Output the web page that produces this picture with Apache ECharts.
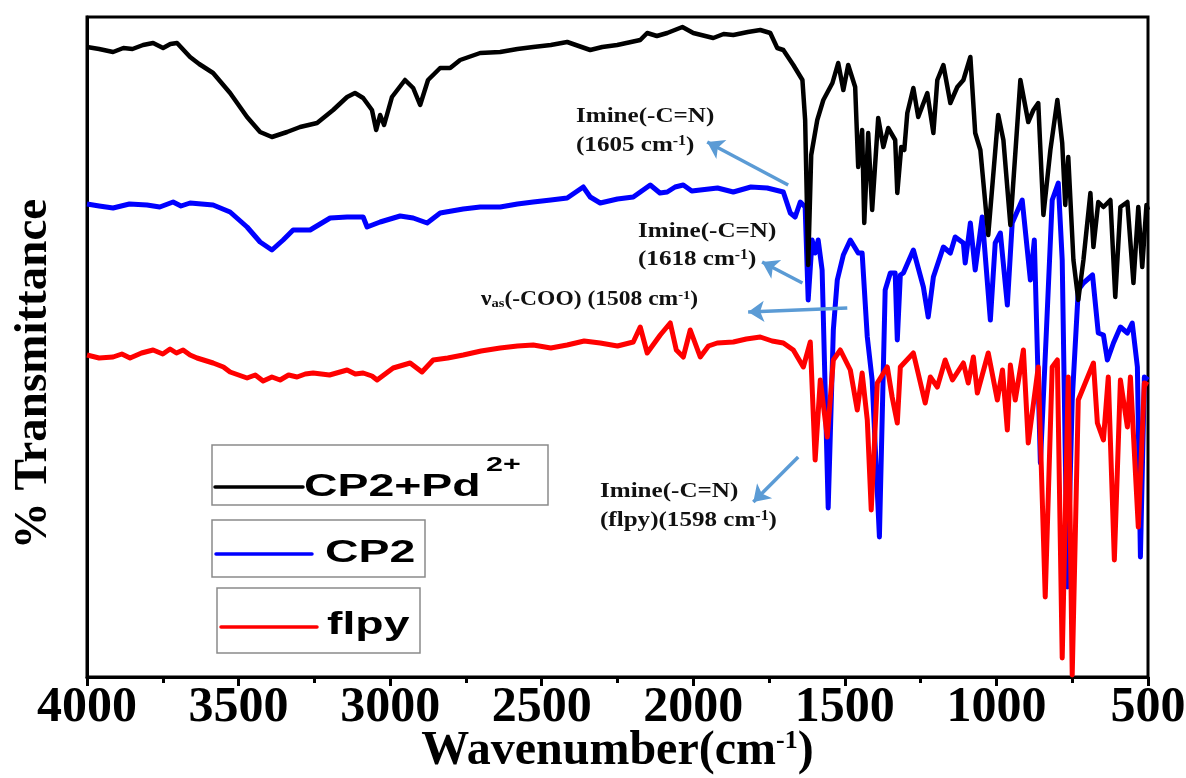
<!DOCTYPE html>
<html>
<head>
<meta charset="utf-8">
<title>FTIR spectra</title>
<script src="https://cdn.jsdelivr.net/npm/echarts@6/dist/echarts.min.js"></script>
<style>
  html, body { margin: 0; padding: 0; background: #fff; }
  #chart { width: 1186px; height: 778px; }
</style>
</head>
<body>
<div id="chart"></div>
<script>
// FTIR spectra: [wavenumber (cm-1), transmittance (offset, arbitrary units)]
const cp2PdSpectrum = [
  [4000,630],[3960,628],[3914,625],[3880,629],[3850,628],[3815,632],[3782,634],[3749,629],[3725,633],
  [3703,634],[3660,620],[3630,613],[3584,604],[3528,584],
  [3472,560],[3429,545],[3390,540],[3340,545],[3297,550],[3241,554],[3188,567],[3142,580],[3116,584],
  [3089,579],[3060,567],[3046,547],[3033,562],[3020,552],[2994,580],[2951,597],[2924,589],[2901,572],
  [2875,597],[2835,609],[2802,609],[2769,617],[2703,624],[2637,625],[2580,628],[2528,630],[2470,632],
  [2416,635],[2340,627],[2300,630],[2251,632],[2175,637],[2152,644],[2120,641],[2086,644],[2036,650],
  [2000,644],[1934,639],[1900,643],[1868,642],[1820,645],[1779,647],
  [1746,644],[1723,629],[1703,627],[1670,612],[1640,597],[1631,557],[1621,412],[1611,522],[1591,557],
  [1571,577],[1541,594],[1522,614],[1505,587],[1489,612],[1466,590],[1456,510],[1443,547],[1436,454],
  [1423,544],[1410,467],[1390,559],[1373,530],[1357,549],[1334,537],[1327,484],[1314,530],[1304,527],
  [1294,564],[1274,589],[1258,560],[1228,584],[1208,544],[1195,597],[1175,612],[1152,574],[1129,590],
  [1109,597],[1086,620],[1070,544],[1053,527],[1027,442],[994,562],[977,537],[954,452],[921,597],
  [895,555],[878,567],[862,574],[845,462],[822,527],[799,577],[783,534],[773,472],[763,520],[746,417],
  [730,377],[713,417],[690,484],[680,430],[664,475],[647,470],[624,477],[608,380],[591,470],[568,475],
  [548,394],[532,470],[519,410],[505,472],[500,467]
];

const cp2Spectrum = [
  [4000,473],[3960,471],[3914,469],[3860,473],[3802,472],[3760,470],[3716,475],[3690,471],[3660,474],
  [3584,472],[3528,465],[3472,450],[3429,435],
  [3390,427],[3353,437],[3320,447],[3264,447],[3198,459],[3142,460],[3089,460],[3076,450],[3033,455],
  [2967,461],[2924,459],[2878,454],[2835,464],[2759,468],[2703,470],[2637,470],[2580,473],[2528,475],
  [2470,477],[2416,479],[2363,490],[2340,480],[2307,474],[2250,478],[2198,480],[2142,492],[2110,484],
  [2086,485],[2060,490],[2033,492],[2005,486],[1977,487],[1920,489],[1868,485],[1810,490],[1756,489],
  [1703,485],[1680,464],[1664,460],[1647,475],[1631,470],[1621,377],[1608,437],[1598,424],[1588,437],
  [1575,407],[1555,169],[1538,347],[1525,397],[1505,422],[1482,437],[1456,424],[1443,424],[1426,340],
  [1410,297],[1386,140],[1367,387],[1350,404],[1334,404],[1327,337],[1317,402],[1307,404],[1274,427],
  [1241,390],[1225,360],[1208,400],[1175,430],[1152,424],[1136,440],[1109,434],[1103,414],[1086,454],
  [1070,407],[1047,460],[1020,357],[1004,434],[987,444],[964,372],[948,454],[915,477],[888,397],
  [875,437],[855,214],[835,347],[816,477],[796,494],[783,417],[766,90],[750,277],[730,387],[713,394],
  [683,402],[664,344],[647,342],[634,317],[614,334],[591,350],[568,344],[552,354],[535,310],[525,120],
  [512,300],[500,297]
];

const flpySpectrum = [
  [4000,322],[3960,319],[3914,320],[3885,323],[3858,319],[3820,324],[3782,327],[3750,323],[3726,328],
  [3705,324],[3683,327],[3660,322],[3637,319],[3584,314],[3550,310],[3528,305],
  [3472,299],[3445,302],[3419,296],[3390,300],[3363,297],[3335,302],[3307,300],[3280,303],[3254,304],
  [3200,302],[3142,307],[3115,303],[3089,304],[3060,301],[3043,297],[2990,309],
  [2934,314],[2895,305],[2858,317],[2810,319],[2759,322],[2700,326],[2637,329],[2580,331],[2528,332],
  [2470,329],[2416,332],[2360,336],[2307,334],[2250,331],[2198,335],
  [2175,350],[2152,324],[2109,342],[2076,354],[2056,327],[2033,320],[2010,347],[1977,320],[1950,331],
  [1921,334],[1868,335],[1825,338],[1779,340],[1740,336],[1703,334],[1670,327],[1637,310],[1614,335],
  [1598,217],[1581,297],[1558,240],
  [1538,317],[1515,327],[1482,307],[1459,267],[1443,304],[1426,257],[1413,167],[1393,294],[1360,310],
  [1344,280],[1327,254],[1317,310],[1274,324],[1235,274],[1218,300],[1195,290],[1169,317],[1145,297],
  [1109,314],[1093,294],[1076,320],[1063,284],[1027,324],[997,277],[980,307],[964,247],[954,312],
  [938,277],[911,327],[895,234],[862,310],[839,80],[816,310],[799,317],[783,19],[763,300],[750,2],
  [730,277],[707,294],[680,314],[667,254],[647,237],[631,300],[611,117],[591,297],[568,250],[558,300],
  [532,150],[512,294],[500,292]
];

// Band assignment arrows: [tail, head] in [wavenumber, transmittance]
const bandArrows = [
  [[1687,492],[1954,535]],
  [[1640,394],[1773,415]],
  [[1492,369],[1819,365]],
  [[1654,220],[1802,175]]
];

const xTicks = { min: 500, max: 4000, step: 500 };

const SERIF = "'Liberation Serif', 'Times New Roman', serif";
const SANS = "'Liberation Sans', Arial, sans-serif";
const ARROW_BLUE = '#5b9bd5';

function noteRich(size) {
  return {
    sup: { fontFamily: SERIF, fontWeight: 'bold', fontSize: Math.round(size * 0.62),
           fill: '#111', verticalAlign: 'top', lineHeight: size },
    sub: { fontFamily: SERIF, fontWeight: 'bold', fontSize: Math.round(size * 0.62),
           fill: '#111', verticalAlign: 'bottom', lineHeight: size },
    n: { fontFamily: SERIF, fontWeight: 'bold', fontSize: size, fill: '#111', lineHeight: size }
  };
}
function note(text, x, y, size, sx) {
  size = size || 22;
  return {
    type: 'text', x: x, y: y, scaleX: sx || 1.14, z: 20,
    style: { text: text, fontFamily: SERIF, fontWeight: 'bold', fontSize: size,
             fill: '#111', align: 'left', verticalAlign: 'middle', rich: noteRich(size) }
  };
}
function legendText(text, x, y, size) {
  return {
    type: 'text', x: x, y: y, scaleX: 1.45, z: 21,
    style: { text: text, fontFamily: SANS, fontWeight: 'bold', fontSize: size,
             fill: '#000', align: 'left', verticalAlign: 'middle' }
  };
}
function legendBox(x, y, w, h) {
  return { type: 'rect', z: 20, shape: { x: x, y: y, width: w, height: h },
           style: { fill: '#fff', stroke: '#8a8a8a', lineWidth: 1.5 } };
}
function legendLine(x1, x2, y, color) {
  return { type: 'line', z: 21, shape: { x1: x1, y1: y, x2: x2, y2: y },
           style: { stroke: color, lineWidth: 3.5, lineCap: 'round' } };
}

const chart = echarts.init(document.getElementById('chart'), null, { renderer: 'canvas' });

chart.setOption({
  backgroundColor: '#fff',
  animation: false,
  grid: { left: 87, right: 38, top: 17, bottom: 101, show: true, outerBoundsMode: 'none',
          borderColor: '#000', borderWidth: 3, backgroundColor: 'transparent' },
  xAxis: {
    type: 'value', min: xTicks.min, max: xTicks.max, interval: xTicks.step, inverse: true,
    axisLine: { show: true, onZero: false, lineStyle: { color: '#000', width: 3 } },
    axisTick: { show: true, inside: false, length: 9, lineStyle: { color: '#000', width: 3 } },
    minorTick: { show: true, splitNumber: 2, length: 6, lineStyle: { color: '#000', width: 3 } },
    axisLabel: { color: '#000', fontFamily: SERIF, fontWeight: 'bold', fontSize: 50, margin: 6,
                 formatter: function (v) { return String(v); } },
    splitLine: { show: false },
    minorSplitLine: { show: false },
    name: '{t|Wavenumber(cm}{s|-1}{t|)}', nameLocation: 'middle', nameGap: 51,
    nameMoveOverlap: false,
    nameTextStyle: {
      color: '#000', fontFamily: SERIF, fontWeight: 'bold', fontSize: 48,
      rich: {
        t: { fontFamily: SERIF, fontWeight: 'bold', fontSize: 48, color: '#000', lineHeight: 48 },
        s: { fontFamily: SERIF, fontWeight: 'bold', fontSize: 26, color: '#000',
             verticalAlign: 'top', lineHeight: 48 }
      }
    }
  },
  yAxis: {
    type: 'value', min: 0, max: 660,
    axisLine: { show: true, onZero: false, lineStyle: { color: '#000', width: 3 } },
    axisTick: { show: false }, axisLabel: { show: false }, splitLine: { show: false },
    name: '% Transmittance', nameLocation: 'middle', nameGap: 30, nameRotate: 90,
    nameMoveOverlap: false,
    nameTextStyle: { color: '#000', fontFamily: SERIF, fontWeight: 'bold', fontSize: 47,
                     padding: [0, 54, 0, 0] }
  },
  series: [
    { name: 'CP2', type: 'line', data: cp2Spectrum, showSymbol: false, z: 2,
      lineStyle: { color: '#0000ff', width: 5, join: 'round' } },
    { name: 'flpy', type: 'line', data: flpySpectrum, showSymbol: false, z: 3,
      lineStyle: { color: '#ff0000', width: 5, join: 'round' } },
    { name: 'CP2+Pd2+', type: 'line', data: cp2PdSpectrum, showSymbol: false, z: 4,
      lineStyle: { color: '#000', width: 4.5, join: 'round' } },
    { name: 'assignments', type: 'lines', coordinateSystem: 'cartesian2d', z: 6,
      symbol: ['none', 'arrow'], symbolSize: [0, 16],
      lineStyle: { color: ARROW_BLUE, width: 3.5, opacity: 1 },
      data: bandArrows.map(function (a) { return { coords: a }; }) }
  ],
  graphic: [
    note('Imine(-C=N)', 576, 116),
    note('(1605 cm{sup|-1})', 576, 145),
    note('Imine(-C=N)', 638, 231),
    note('(1618 cm{sup|-1})', 638, 259),
    note('{n|ν}{sub|as}{n|(-COO) (1508 cm}{sup|-1}{n|)}', 481, 300, 21, 1.12),
    note('Imine(-C=N)', 600, 491),
    note('(flpy)(1598 cm{sup|-1})', 600, 520),

    legendBox(212, 445, 336, 60),
    legendLine(215, 303, 487, '#000'),
    legendText('CP2+Pd', 304, 487, 32),
    legendText('2+', 486, 465, 21),

    legendBox(212, 520, 213, 57),
    legendLine(216, 312, 554, '#0000ff'),
    legendText('CP2', 325, 553, 32),

    legendBox(217, 588, 203, 65),
    legendLine(221, 317, 627, '#ff0000'),
    legendText('flpy', 327, 625, 32)
  ]
});
</script>
</body>
</html>
